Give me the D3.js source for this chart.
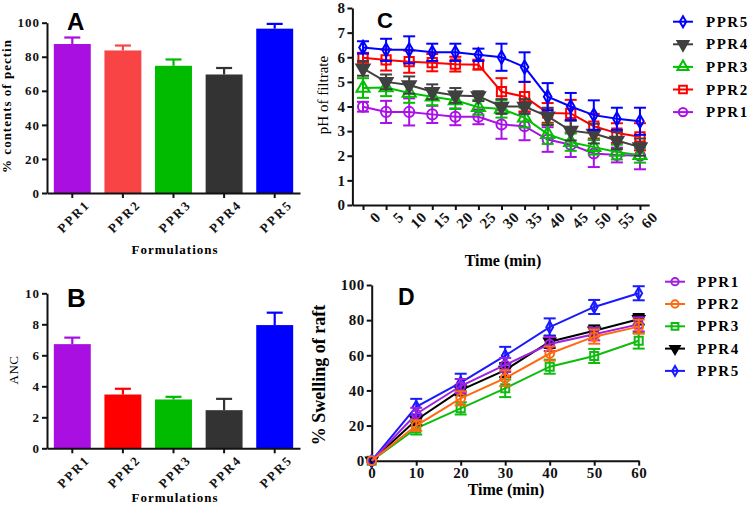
<!DOCTYPE html>
<html>
<head>
<meta charset="utf-8">
<script src="https://cdn.jsdelivr.net/npm/d3@7"></script>
<style>
body{margin:0;background:#fff;}
svg{display:block;font-family:"Liberation Serif","Times New Roman",serif;}
.axis path,.axis line{stroke:#111;stroke-width:2;}
.axis text{font-weight:bold;fill:#111;font-family:"Liberation Serif","Times New Roman",serif;}
</style>
</head>
<body>
<svg id="chart" width="749" height="507"></svg>
<script>
// ---- data ----
const formulations = ["PPR1", "PPR2", "PPR3", "PPR4", "PPR5"];

// A: % contents of pectin
const pectinMean = [87.5, 83.7, 74.7, 69.6, 96.5];
const pectinErr  = [3.8, 2.9, 3.7, 3.8, 2.8];
// B: ANC
const ancMean = [6.72, 3.47, 3.15, 2.46, 7.95];
const ancErr  = [0.42, 0.37, 0.17, 0.73, 0.8];

// C: pH of filtrate vs time
const phTimes = [0, 5, 10, 15, 20, 25, 30, 35, 40, 45, 50, 55, 60];
const phPPR5 = [6.4, 6.3, 6.3, 6.2, 6.2, 6.1, 6.0, 5.6, 4.4, 4.0, 3.65, 3.5, 3.4];
const phPPR5Err = [0.25, 0.45, 0.55, 0.35, 0.35, 0.25, 0.55, 0.6, 0.55, 0.55, 0.6, 0.45, 0.55];
const phPPR4 = [5.55, 5.0, 4.87, 4.6, 4.45, 4.42, 4.0, 4.0, 3.6, 3.02, 2.9, 2.62, 2.35];
const phPPR4Err = [0.3, 0.3, 0.35, 0.3, 0.3, 0.2, 0.3, 0.3, 0.35, 0.4, 0.4, 0.35, 0.35];
const phPPR3 = [4.75, 4.77, 4.55, 4.4, 4.25, 3.97, 3.9, 3.55, 2.88, 2.55, 2.35, 2.15, 2.02];
const phPPR3Err = [0.4, 0.35, 0.4, 0.35, 0.35, 0.3, 0.35, 0.4, 0.4, 0.35, 0.3, 0.3, 0.3];
const phPPR2 = [5.98, 5.89, 5.82, 5.78, 5.72, 5.7, 4.6, 4.4, 3.74, 3.72, 3.2, 2.92, 2.77];
const phPPR2Err = [0.2, 0.43, 0.45, 0.35, 0.3, 0.2, 0.55, 0.6, 0.4, 0.55, 0.5, 0.4, 0.55];
const phPPR1 = [3.99, 3.78, 3.78, 3.68, 3.58, 3.58, 3.27, 3.2, 2.66, 2.45, 2.09, 2.03, 2.0];
const phPPR1Err = [0.2, 0.45, 0.55, 0.35, 0.34, 0.3, 0.58, 0.57, 0.5, 0.5, 0.55, 0.3, 0.55];

// D: % swelling of raft vs time
const swTimes = [0, 10, 20, 30, 40, 50, 60];
const swPPR1 = [0, 26.6, 42.5, 54.5, 66.4, 72, 77.6];
const swPPR1Err = [0, 3.5, 4, 4, 4, 3.5, 4];
const swPPR2 = [0, 20, 35.5, 47, 61, 70.6, 76.3];
const swPPR2Err = [0, 3, 4, 4.5, 4, 4, 4];
const swPPR3 = [0, 18.4, 29.8, 41.2, 53.5, 59.6, 68.3];
const swPPR3Err = [0, 3.5, 3.5, 5, 4, 4, 4.5];
const swPPR4 = [0, 23.2, 40.2, 51.6, 67.7, 74, 80.5];
const swPPR4Err = [0, 3, 3, 4, 3.5, 3, 3];
const swPPR5 = [0, 30.7, 44.5, 59.8, 76, 87.5, 95.3];
const swPPR5Err = [0, 4.5, 5, 5, 5, 4, 4];

const svg = d3.select("#chart");

function styleTicks(g, size, spacing) {
  g.attr("font-family", null);
  g.selectAll("text").style("font-size", size + "px").style("letter-spacing", spacing + "px");
}

// bar panels (A, B)
function barPanel(o) {
  const x = d3.scaleBand().domain(formulations).range(o.xr).paddingInner(0.27).paddingOuter(0.135);
  const y = d3.scaleLinear().domain(o.yd).range(o.yr);
  const data = formulations.map((f, i) => ({f: f, v: o.mean[i], e: o.err[i], c: o.colors[i]}));

  svg.append("g").selectAll("rect")
    .data(data).enter().append("rect")
    .attr("x", d => x(d.f))
    .attr("y", d => y(d.v))
    .attr("width", x.bandwidth())
    .attr("height", d => y(0) - y(d.v))
    .attr("fill", d => d.c);

  const eb = svg.append("g").selectAll("g").data(data).enter().append("g")
    .attr("stroke", d => d.c).attr("stroke-width", 2.2);
  eb.append("line")
    .attr("x1", d => x(d.f) + x.bandwidth() / 2).attr("x2", d => x(d.f) + x.bandwidth() / 2)
    .attr("y1", d => y(d.v)).attr("y2", d => y(d.v + d.e));
  eb.append("line")
    .attr("x1", d => x(d.f) + x.bandwidth() / 2 - 8).attr("x2", d => x(d.f) + x.bandwidth() / 2 + 8)
    .attr("y1", d => y(d.v + d.e)).attr("y2", d => y(d.v + d.e));

  const gy = svg.append("g").attr("class", "axis")
    .attr("transform", "translate(" + o.xr[0] + ",0)")
    .call(d3.axisLeft(y).tickValues(o.ticks).tickSize(5).tickSizeOuter(0).tickPadding(2));
  styleTicks(gy, 13, 1);

  const gx = svg.append("g").attr("class", "axis")
    .attr("transform", "translate(0," + y(0) + ")")
    .call(d3.axisBottom(x).tickSize(5).tickSizeOuter(0));
  styleTicks(gx, 13, 2);
  gx.selectAll("text")
    .attr("text-anchor", "end")
    .attr("transform", "translate(6,0) rotate(-45)")
    .attr("dy", "0.9em").attr("y", 6);

  svg.append("text").attr("x", o.xlab[0]).attr("y", o.xlab[1])
    .attr("text-anchor", "middle").style("font-weight", "bold")
    .style("font-size", "13px").style("letter-spacing", "1px")
    .text("Formulations");

  svg.append("text")
    .attr("transform", "translate(" + o.ylab[0] + "," + o.ylab[1] + ") rotate(-90)")
    .attr("text-anchor", "middle")
    .style("font-weight", o.ylabWeight).style("font-size", o.ylabSize + "px")
    .style("letter-spacing", o.ylabSpacing + "px")
    .text(o.ylabel);

  svg.append("text").attr("x", o.letter[0]).attr("y", o.letter[1])
    .style("font-family", "'Liberation Sans',Arial,sans-serif").style("font-weight", "bold")
    .style("font-size", o.letter[2] + "px").text(o.letter[3]);
}

barPanel({
  xr: [47, 300], yd: [0, 100], yr: [193, 22.7], ticks: [0, 20, 40, 60, 80, 100],
  mean: pectinMean, err: pectinErr,
  colors: ["#a80fe0", "#f84444", "#00bb00", "#333333", "#0000ff"],
  xlab: [175, 254], ylab: [11, 106], ylabel: "% contents of pectin",
  ylabWeight: "bold", ylabSize: 13, ylabSpacing: 1,
  letter: [67, 30, 24, "A"]
});

barPanel({
  xr: [47, 300], yd: [0, 10], yr: [448.3, 293.3], ticks: [0, 2, 4, 6, 8, 10],
  mean: ancMean, err: ancErr,
  colors: ["#a80fe0", "#ff0000", "#00bb00", "#333333", "#0000ff"],
  xlab: [175, 502], ylab: [18, 370], ylabel: "ANC",
  ylabWeight: "normal", ylabSize: 13, ylabSpacing: 0.5,
  letter: [67, 307, 26, "B"]
});

// line panels (C, D)
function linePanel(o) {
  const x = d3.scaleLinear().domain(o.xd).range(o.xr);
  const y = d3.scaleLinear().domain(o.yd).range(o.yr);

  const gy = svg.append("g").attr("class", "axis")
    .attr("transform", "translate(" + o.xr[0] + ",0)")
    .call(d3.axisLeft(y).tickValues(o.yticks).tickSize(5).tickSizeOuter(0).tickPadding(2));
  styleTicks(gy, 15, 0.5);

  const gx = svg.append("g").attr("class", "axis")
    .attr("transform", "translate(0," + o.yr[0] + ")")
    .call(d3.axisBottom(x).tickValues(o.xticks).tickSize(5).tickSizeOuter(0).tickPadding(2));
  styleTicks(gx, 15, 0.5);
  if (o.rotate) {
    gx.selectAll("text")
      .attr("text-anchor", "end")
      .attr("transform", "translate(5,0) rotate(-45)")
      .attr("dy", "0.9em").attr("y", 5);
  }

  const line = d3.line().x(d => x(d.t)).y(d => y(d.v));

  o.series.forEach(s => {
    const pts = o.times.map((t, i) => ({t: t, v: s.values[i], e: s.err[i]}));
    const g = svg.append("g");
    g.append("path").datum(pts).attr("d", line)
      .attr("fill", "none").attr("stroke", s.color).attr("stroke-width", 2);
    const eb = g.append("g").attr("stroke", s.color).attr("stroke-width", 2);
    const withErr = pts.filter(d => d.e > 0);
    eb.selectAll(".v").data(withErr).enter().append("line")
      .attr("x1", d => x(d.t)).attr("x2", d => x(d.t))
      .attr("y1", d => y(d.v - d.e)).attr("y2", d => y(d.v + d.e));
    eb.selectAll(".t").data(withErr).enter().append("line")
      .attr("x1", d => x(d.t) - 6).attr("x2", d => x(d.t) + 6)
      .attr("y1", d => y(d.v + d.e)).attr("y2", d => y(d.v + d.e));
    eb.selectAll(".b").data(withErr).enter().append("line")
      .attr("x1", d => x(d.t) - 6).attr("x2", d => x(d.t) + 6)
      .attr("y1", d => y(d.v - d.e)).attr("y2", d => y(d.v - d.e));
    g.selectAll(".m").data(pts).enter().append("path")
      .attr("d", d3.symbol().type(s.symbol).size(s.size))
      .attr("transform", d => "translate(" + x(d.t) + "," + y(d.v) + ")" + (s.down ? " rotate(180)" : ""))
      .attr("fill", s.filled ? s.color : "none")
      .attr("stroke", s.color).attr("stroke-width", 2);
  });

  // legend
  o.legend.forEach((s, i) => {
    const ly = o.leg.y0 + i * o.leg.dy;
    svg.append("line").attr("x1", o.leg.x0).attr("x2", o.leg.x0 + 20)
      .attr("y1", ly).attr("y2", ly).attr("stroke", s.color).attr("stroke-width", 2);
    svg.append("path").attr("d", d3.symbol().type(s.symbol).size(s.size * 0.7))
      .attr("transform", "translate(" + (o.leg.x0 + 10) + "," + ly + ")" + (s.down ? " rotate(180)" : ""))
      .attr("fill", s.filled ? s.color : "none").attr("stroke", s.color).attr("stroke-width", 2);
    svg.append("text").attr("x", o.leg.tx).attr("y", ly + 5)
      .style("font-weight", "bold").style("font-size", "15px").style("letter-spacing", "1.5px")
      .text(s.name);
  });

  svg.append("text").attr("x", o.xlab[0]).attr("y", o.xlab[1])
    .attr("text-anchor", "middle").style("font-weight", "bold").style("font-size", "16px")
    .text("Time (min)");

  svg.append("text")
    .attr("transform", "translate(" + o.ylab[0] + "," + o.ylab[1] + ") rotate(-90)")
    .attr("text-anchor", "middle")
    .style("font-weight", o.ylabWeight).style("font-size", o.ylabSize + "px")
    .text(o.ylabel);

  svg.append("text").attr("x", o.letter[0]).attr("y", o.letter[1])
    .style("font-family", "'Liberation Sans',Arial,sans-serif").style("font-weight", "bold")
    .style("font-size", o.letter[2] + "px").text(o.letter[3]);
}

const cSeries = [
  {name: "PPR5", values: phPPR5, err: phPPR5Err, color: "#0000ff", symbol: d3.symbolDiamond, size: 50},
  {name: "PPR4", values: phPPR4, err: phPPR4Err, color: "#404040", symbol: d3.symbolTriangle, size: 75, down: true, filled: true},
  {name: "PPR3", values: phPPR3, err: phPPR3Err, color: "#00c000", symbol: d3.symbolTriangle, size: 75},
  {name: "PPR2", values: phPPR2, err: phPPR2Err, color: "#ff0000", symbol: d3.symbolSquare, size: 85},
  {name: "PPR1", values: phPPR1, err: phPPR1Err, color: "#aa10e8", symbol: d3.symbolCircle, size: 80}
];

linePanel({
  xd: [-2.3, 62], xr: [352.4, 649.2], yd: [0, 8], yr: [205, 8],
  xticks: phTimes, yticks: d3.range(0, 9), rotate: true, times: phTimes,
  series: cSeries.slice().reverse(), legend: cSeries,
  leg: {x0: 673, tx: 706, y0: 21.7, dy: 22.6},
  xlab: [503, 266], ylab: [328, 95], ylabel: "pH of filtrate", ylabWeight: "normal", ylabSize: 15,
  letter: [377, 28, 22, "C"]
});

const dSeries = [
  {name: "PPR1", values: swPPR1, err: swPPR1Err, color: "#a020e0", symbol: d3.symbolCircle, size: 60},
  {name: "PPR2", values: swPPR2, err: swPPR2Err, color: "#ff6a10", symbol: d3.symbolCircle, size: 60},
  {name: "PPR3", values: swPPR3, err: swPPR3Err, color: "#10bb10", symbol: d3.symbolSquare, size: 65},
  {name: "PPR4", values: swPPR4, err: swPPR4Err, color: "#000000", symbol: d3.symbolTriangle, size: 55, down: true, filled: true},
  {name: "PPR5", values: swPPR5, err: swPPR5Err, color: "#1a1aff", symbol: d3.symbolDiamond, size: 40}
];

linePanel({
  xd: [0, 60], xr: [371.7, 638.7], yd: [0, 100], yr: [460.7, 285],
  xticks: swTimes, yticks: d3.range(0, 101, 20), rotate: false, times: swTimes,
  series: dSeries.slice(2).concat(dSeries.slice(0, 2)), legend: dSeries,
  leg: {x0: 665, tx: 697, y0: 281.7, dy: 22.3},
  xlab: [506, 495], ylab: [325, 375], ylabel: "% Swelling of raft", ylabWeight: "bold", ylabSize: 18,
  letter: [398, 305, 23, "D"]
});
</script>
</body>
</html>
